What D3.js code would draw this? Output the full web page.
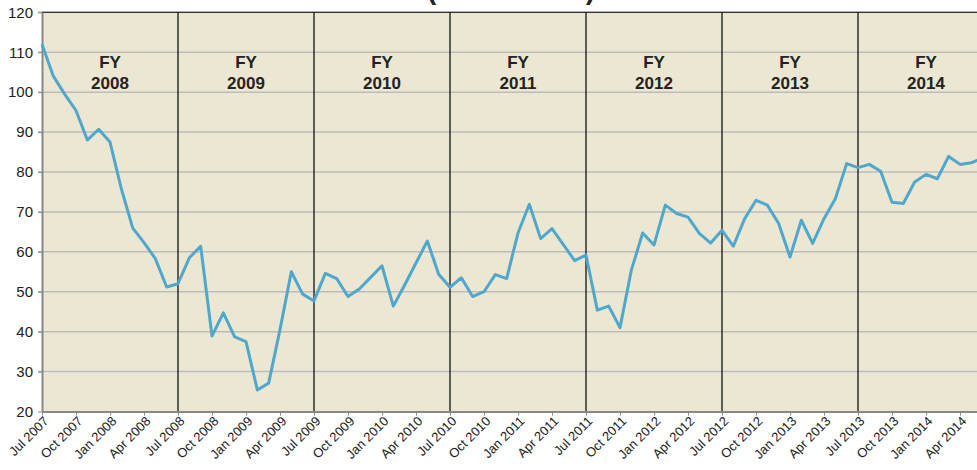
<!DOCTYPE html>
<html>
<head>
<meta charset="utf-8">
<script src="https://cdn.jsdelivr.net/npm/d3@7"></script>
<style>
body {
  margin: 0;
  background-color: white;
}
svg text {
  font-family: "Liberation Sans", Arial, sans-serif;
  fill: #222;
}
.axis path,
.axis line {
  stroke: #888;
}
</style>
</head>
<body>
<script>

// monthly values, Jul 2007 .. Jun 2014
const values = [
  112, 104, 99.5, 95.4, 88, 90.7, 87.5, 75.8, 66, 62.3, 58.3, 51.2,
  52, 58.5, 61.4, 38.9, 44.7, 38.7, 37.5, 25.4, 27.1, 40.5, 55, 49.4,
  47.7, 54.6, 53.3, 48.8, 50.7, 53.6, 56.5, 46.4, 51.7, 57.2, 62.7, 54.4,
  51.1, 53.5, 48.8, 50, 54.3, 53.3, 64.7, 71.9, 63.3, 65.8, 61.8, 57.8,
  59.2, 45.4, 46.4, 41, 55.4, 64.7, 61.7, 71.7, 69.6, 68.7, 64.6, 62.2,
  65.4, 61.4, 68.3, 72.9, 71.7, 67.1, 58.7, 67.9, 62.1, 68.3, 73.3, 82.1,
  81.1, 81.9, 80.2, 72.4, 72.1, 77.5, 79.4, 78.3, 83.9, 81.9, 82.3, 83.5
];

// one label every 3 months
const tickLabels = [
  "Jul 2007", "Oct 2007", "Jan 2008", "Apr 2008",
  "Jul 2008", "Oct 2008", "Jan 2009", "Apr 2009",
  "Jul 2009", "Oct 2009", "Jan 2010", "Apr 2010",
  "Jul 2010", "Oct 2010", "Jan 2011", "Apr 2011",
  "Jul 2011", "Oct 2011", "Jan 2012", "Apr 2012",
  "Jul 2012", "Oct 2012", "Jan 2013", "Apr 2013",
  "Jul 2013", "Oct 2013", "Jan 2014", "Apr 2014"
];

const fiscalYears = ["2008", "2009", "2010", "2011", "2012", "2013", "2014"];
const yTicks = [20, 30, 40, 50, 60, 70, 80, 90, 100, 110, 120];

const W = 977, H = 470;
const svg = d3.select("body").append("svg")
  .attr("width", W)
  .attr("height", H);

const margin = {top: 12, left: 42, bottom: 58};
const monthW = 136 / 12;

const x = d3.scaleLinear()
  .domain([0, 84])
  .range([margin.left, margin.left + 84 * monthW]);

const y = d3.scaleLinear()
  .domain([20, 120])
  .range([H - margin.bottom - 0.5, margin.top + 0.3]);

// title, mostly above the visible area
svg.append("text")
  .attr("x", 511)
  .attr("y", -1.5)
  .attr("text-anchor", "middle")
  .style("font-size", "28px")
  .style("font-weight", "bold")
  .text("(Thousands)");

// plot background
svg.append("rect")
  .attr("x", x(0))
  .attr("y", y(120))
  .attr("width", W - x(0))
  .attr("height", y(20) - y(120))
  .attr("fill", "#ece7d3");

// horizontal grid
svg.append("g").selectAll("line")
  .data(yTicks.slice(1))
  .join("line")
  .attr("x1", x(0) - 4)
  .attr("x2", W)
  .attr("y1", d => y(d))
  .attr("y2", d => y(d))
  .attr("stroke", "#bcbcbc")
  .attr("stroke-width", 1.5);

// top border
svg.append("line")
  .attr("x1", x(0)).attr("x2", W)
  .attr("y1", y(120)).attr("y2", y(120))
  .attr("stroke", "#333")
  .attr("stroke-width", 1.2);

// fiscal year separators
svg.append("g").selectAll("line")
  .data(d3.range(1, fiscalYears.length))
  .join("line")
  .attr("x1", d => x(d * 12))
  .attr("x2", d => x(d * 12))
  .attr("y1", y(120))
  .attr("y2", y(20))
  .attr("stroke", "#111")
  .attr("stroke-width", 1.3);

// fiscal year labels
const fy = svg.append("g").selectAll("text")
  .data(fiscalYears)
  .join("text")
  .attr("text-anchor", "middle")
  .style("font-size", "17px")
  .style("font-weight", "bold")
  .attr("fill", "#111");
fy.append("tspan")
  .attr("x", (d, i) => x(i * 12 + 6))
  .attr("y", 68)
  .text("FY");
fy.append("tspan")
  .attr("x", (d, i) => x(i * 12 + 6))
  .attr("y", 89)
  .text(d => d);

// y axis
const yAxis = d3.axisLeft(y)
  .tickValues(yTicks)
  .tickSize(4)
  .tickSizeOuter(0)
  .tickPadding(5);

svg.append("g")
  .attr("class", "axis")
  .attr("transform", `translate(${x(0)}, 0)`)
  .call(yAxis)
  .call(g => g.select(".domain").attr("stroke-width", 2))
  .call(g => g.selectAll("text").style("font-size", "15px").attr("fill", "#222"));

// x axis
const xAxis = d3.axisBottom(x)
  .tickValues(d3.range(0, tickLabels.length * 3, 3))
  .tickFormat((d, i) => tickLabels[i])
  .tickSize(4)
  .tickSizeOuter(0);

svg.append("g")
  .attr("class", "axis")
  .attr("transform", `translate(0, ${y(20)})`)
  .call(xAxis)
  .call(g => g.select(".domain").attr("stroke-width", 2))
  .call(g => g.selectAll("text")
    .style("font-size", "13px")
    .attr("fill", "#222")
    .attr("text-anchor", "end")
    .attr("dx", "-0.2em")
    .attr("dy", "0.4em")
    .attr("transform", "rotate(-45)"));

// the series
const line = d3.line()
  .x((d, i) => x(i))
  .y(d => y(d));

svg.append("path")
  .datum(values)
  .attr("d", line)
  .attr("fill", "none")
  .attr("stroke", "#4fa8cb")
  .attr("stroke-width", 3)
  .attr("stroke-linejoin", "round");

</script>
</body>
</html>
